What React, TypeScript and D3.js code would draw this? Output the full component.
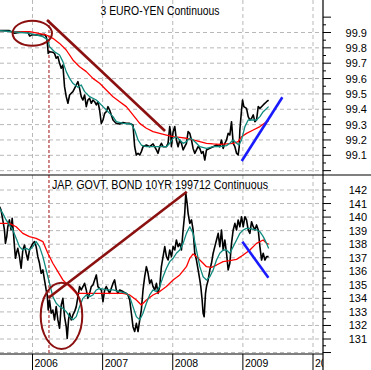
import React from "react";
import * as d3 from "d3";

type P = [number, number];

// ---- 3 EURO-YEN Continuous (decimal year, price) ----
const euroYenClose: P[] = [
  [2005.53, 99.912], [2005.67, 99.912], [2005.72, 99.901], [2005.74, 99.895], [2005.81, 99.901],
  [2005.93, 99.905], [2005.96, 99.877], [2006.0, 99.886], [2006.1, 99.882], [2006.17, 99.888],
  [2006.195, 99.873], [2006.21, 99.84], [2006.224, 99.764], [2006.243, 99.775], [2006.29, 99.771],
  [2006.314, 99.764], [2006.338, 99.732], [2006.362, 99.743], [2006.386, 99.699], [2006.41, 99.667],
  [2006.433, 99.688], [2006.457, 99.547], [2006.481, 99.482], [2006.505, 99.439], [2006.529, 99.493],
  [2006.552, 99.504], [2006.576, 99.515], [2006.6, 99.536], [2006.624, 99.558], [2006.648, 99.58],
  [2006.671, 99.536], [2006.695, 99.482], [2006.719, 99.46], [2006.743, 99.493], [2006.767, 99.417],
  [2006.79, 99.46], [2006.814, 99.471], [2006.838, 99.439], [2006.862, 99.46], [2006.886, 99.449],
  [2006.91, 99.428], [2006.933, 99.449], [2006.957, 99.395], [2006.981, 99.308], [2007.005, 99.33],
  [2007.029, 99.373], [2007.052, 99.384], [2007.076, 99.417], [2007.1, 99.395], [2007.124, 99.363],
  [2007.148, 99.33], [2007.171, 99.319], [2007.195, 99.308], [2007.243, 99.304], [2007.29, 99.313],
  [2007.338, 99.308], [2007.386, 99.308], [2007.433, 99.297], [2007.457, 99.156], [2007.481, 99.102],
  [2007.505, 99.113], [2007.529, 99.102], [2007.552, 99.124], [2007.576, 99.156], [2007.624, 99.167],
  [2007.671, 99.156], [2007.719, 99.174], [2007.767, 99.135], [2007.79, 99.113], [2007.814, 99.156],
  [2007.838, 99.178], [2007.862, 99.156], [2007.91, 99.156], [2007.933, 99.178], [2007.957, 99.287],
  [2007.971, 99.243], [2007.981, 99.156], [2008.005, 99.254], [2008.029, 99.287], [2008.052, 99.2],
  [2008.076, 99.156], [2008.1, 99.2], [2008.124, 99.178], [2008.148, 99.135], [2008.171, 99.156],
  [2008.195, 99.178], [2008.219, 99.254], [2008.243, 99.243], [2008.267, 99.2], [2008.29, 99.145],
  [2008.314, 99.113], [2008.338, 99.135], [2008.362, 99.156], [2008.386, 99.145], [2008.41, 99.113],
  [2008.433, 99.124], [2008.457, 99.069], [2008.481, 99.135], [2008.529, 99.145], [2008.576, 99.156],
  [2008.624, 99.167], [2008.671, 99.156], [2008.695, 99.2], [2008.719, 99.145], [2008.743, 99.178],
  [2008.767, 99.2], [2008.79, 99.243], [2008.814, 99.232], [2008.838, 99.319], [2008.862, 99.178],
  [2008.886, 99.156], [2008.91, 99.113], [2008.933, 99.102], [2008.948, 99.156], [2008.957, 99.265],
  [2008.981, 99.395], [2008.995, 99.46], [2009.014, 99.417], [2009.052, 99.406], [2009.076, 99.352],
  [2009.1, 99.33], [2009.124, 99.341], [2009.148, 99.363], [2009.171, 99.319], [2009.195, 99.33],
  [2009.219, 99.417], [2009.243, 99.406], [2009.29, 99.428], [2009.338, 99.449], [2009.367, 99.46],
];

const euroYenShortMA: P[] = [
  [2005.53, 99.912], [2005.72, 99.905], [2005.96, 99.895], [2006.148, 99.873], [2006.219, 99.851],
  [2006.243, 99.808], [2006.314, 99.775], [2006.386, 99.753], [2006.433, 99.71], [2006.481, 99.645],
  [2006.529, 99.601], [2006.576, 99.569], [2006.648, 99.543], [2006.695, 99.558], [2006.743, 99.515],
  [2006.814, 99.482], [2006.91, 99.46], [2006.957, 99.439], [2007.005, 99.417], [2007.052, 99.395],
  [2007.1, 99.373], [2007.148, 99.352], [2007.195, 99.319], [2007.29, 99.308], [2007.41, 99.304],
  [2007.457, 99.265], [2007.505, 99.2], [2007.552, 99.167], [2007.624, 99.156], [2007.719, 99.156],
  [2007.814, 99.156], [2007.91, 99.156], [2007.957, 99.178], [2008.005, 99.211], [2008.052, 99.221],
  [2008.1, 99.2], [2008.148, 99.178], [2008.195, 99.189], [2008.243, 99.211], [2008.29, 99.2],
  [2008.338, 99.178], [2008.386, 99.156], [2008.481, 99.145], [2008.576, 99.156], [2008.671, 99.156],
  [2008.767, 99.163], [2008.814, 99.178], [2008.862, 99.2], [2008.91, 99.178], [2008.943, 99.167],
  [2008.981, 99.2], [2009.029, 99.287], [2009.076, 99.33], [2009.148, 99.33], [2009.195, 99.33],
  [2009.243, 99.352], [2009.29, 99.384], [2009.367, 99.417],
];

const euroYenLongMA: P[] = [
  [2005.72, 99.905], [2005.96, 99.905], [2006.195, 99.884], [2006.29, 99.862], [2006.386, 99.829],
  [2006.481, 99.786], [2006.576, 99.721], [2006.671, 99.677], [2006.767, 99.645], [2006.862, 99.601],
  [2006.957, 99.569], [2007.052, 99.525], [2007.148, 99.482], [2007.243, 99.449], [2007.338, 99.417],
  [2007.433, 99.363], [2007.529, 99.308], [2007.624, 99.276], [2007.719, 99.254], [2007.814, 99.243],
  [2007.91, 99.232], [2008.005, 99.221], [2008.1, 99.217], [2008.195, 99.211], [2008.29, 99.2],
  [2008.386, 99.189], [2008.481, 99.178], [2008.576, 99.174], [2008.671, 99.171], [2008.767, 99.174],
  [2008.862, 99.178], [2008.933, 99.189], [2008.981, 99.221], [2009.052, 99.243], [2009.148, 99.265],
  [2009.243, 99.287], [2009.338, 99.319], [2009.367, 99.326],
];

// ---- JAP. GOVT. BOND 10YR 199712 Continuous ----
const jgbClose: P[] = [
  [2005.53, 140.77], [2005.552, 140.52], [2005.576, 139.79], [2005.6, 139.05], [2005.614, 138.06],
  [2005.633, 138.56], [2005.648, 139.29], [2005.671, 139.79], [2005.695, 139.05], [2005.71, 139.91],
  [2005.729, 138.8], [2005.743, 137.82], [2005.757, 136.96], [2005.776, 137.45], [2005.79, 137.69],
  [2005.814, 137.08], [2005.838, 136.22], [2005.862, 137.57], [2005.886, 137.94], [2005.91, 137.33],
  [2005.933, 136.83], [2005.957, 137.57], [2005.981, 137.82], [2006.005, 138.06], [2006.029, 138.19],
  [2006.052, 137.82], [2006.076, 137.08], [2006.1, 136.59], [2006.124, 135.85], [2006.148, 136.1],
  [2006.171, 135.36], [2006.195, 134.62], [2006.21, 134.25], [2006.224, 133.14], [2006.243, 133.88],
  [2006.267, 132.9], [2006.29, 133.14], [2006.314, 132.41], [2006.338, 133.39], [2006.362, 132.41],
  [2006.386, 131.79], [2006.41, 133.51], [2006.433, 134.0], [2006.457, 132.65], [2006.481, 131.91],
  [2006.495, 131.05], [2006.514, 132.41], [2006.529, 132.9], [2006.552, 132.41], [2006.576, 132.78],
  [2006.6, 133.02], [2006.624, 133.39], [2006.648, 134.13], [2006.671, 134.87], [2006.695, 134.62],
  [2006.719, 134.87], [2006.743, 135.11], [2006.767, 134.62], [2006.79, 134.0], [2006.814, 134.37],
  [2006.838, 134.87], [2006.862, 134.99], [2006.886, 135.36], [2006.91, 135.73], [2006.933, 134.87],
  [2006.957, 134.74], [2006.981, 134.62], [2007.005, 133.76], [2007.029, 134.62], [2007.052, 134.87],
  [2007.1, 134.37], [2007.148, 135.11], [2007.171, 135.36], [2007.195, 134.62], [2007.219, 134.37],
  [2007.243, 134.62], [2007.29, 134.5], [2007.338, 134.37], [2007.362, 134.25], [2007.386, 133.88],
  [2007.41, 132.9], [2007.433, 131.91], [2007.457, 131.55], [2007.481, 132.16], [2007.505, 131.55],
  [2007.529, 132.41], [2007.552, 133.14], [2007.576, 134.62], [2007.6, 135.6], [2007.624, 136.34],
  [2007.648, 135.85], [2007.671, 135.11], [2007.695, 135.36], [2007.719, 134.87], [2007.743, 134.62],
  [2007.767, 135.11], [2007.79, 134.37], [2007.814, 134.87], [2007.838, 136.34], [2007.862, 137.08],
  [2007.886, 137.82], [2007.91, 137.08], [2007.933, 136.83], [2007.957, 137.57], [2007.981, 137.08],
  [2008.005, 137.82], [2008.029, 137.57], [2008.052, 138.31], [2008.076, 137.82], [2008.1, 138.06],
  [2008.124, 137.57], [2008.148, 139.05], [2008.171, 140.28], [2008.186, 141.75], [2008.205, 141.02],
  [2008.219, 140.28], [2008.243, 139.54], [2008.267, 139.79], [2008.29, 139.05], [2008.314, 137.33],
  [2008.338, 136.83], [2008.362, 136.1], [2008.386, 135.36], [2008.4, 134.87], [2008.419, 133.88],
  [2008.433, 132.9], [2008.448, 132.65], [2008.467, 134.37], [2008.481, 134.87], [2008.505, 135.36],
  [2008.529, 136.1], [2008.552, 136.59], [2008.576, 137.33], [2008.6, 137.82], [2008.624, 138.31],
  [2008.648, 138.8], [2008.671, 137.82], [2008.695, 139.05], [2008.719, 137.57], [2008.743, 138.31],
  [2008.767, 137.33], [2008.79, 136.1], [2008.814, 136.59], [2008.838, 138.06], [2008.862, 139.05],
  [2008.886, 139.54], [2008.91, 139.05], [2008.933, 139.79], [2008.957, 139.29], [2008.981, 140.03],
  [2009.005, 139.29], [2009.029, 140.03], [2009.052, 139.79], [2009.076, 139.05], [2009.1, 138.8],
  [2009.124, 139.66], [2009.148, 139.29], [2009.171, 139.05], [2009.195, 139.42], [2009.219, 139.05],
  [2009.243, 137.82], [2009.267, 136.83], [2009.29, 137.33], [2009.314, 136.83], [2009.338, 137.08],
  [2009.367, 137.08],
];

const jgbShortMA: P[] = [
  [2005.53, 140.65], [2005.576, 140.28], [2005.624, 139.79], [2005.671, 139.42], [2005.719, 139.05],
  [2005.767, 138.43], [2005.814, 137.82], [2005.862, 137.57], [2005.91, 137.69], [2005.957, 137.57],
  [2006.005, 137.82], [2006.052, 138.19], [2006.1, 137.82], [2006.148, 137.08], [2006.195, 136.1],
  [2006.243, 135.11], [2006.29, 134.13], [2006.338, 133.64], [2006.386, 133.39], [2006.433, 133.27],
  [2006.481, 133.02], [2006.529, 132.65], [2006.576, 132.41], [2006.624, 132.65], [2006.671, 133.39],
  [2006.719, 134.0], [2006.767, 134.25], [2006.814, 134.13], [2006.862, 134.25], [2006.91, 134.62],
  [2006.957, 134.74], [2007.052, 134.62], [2007.148, 134.62], [2007.243, 134.5], [2007.338, 134.37],
  [2007.386, 134.13], [2007.433, 133.39], [2007.481, 132.65], [2007.529, 132.41], [2007.576, 132.9],
  [2007.624, 133.64], [2007.671, 134.25], [2007.719, 134.62], [2007.767, 134.5], [2007.814, 134.87],
  [2007.862, 135.6], [2007.91, 136.22], [2007.957, 136.71], [2008.005, 136.96], [2008.052, 137.33],
  [2008.1, 137.57], [2008.148, 138.06], [2008.195, 138.8], [2008.243, 139.29], [2008.29, 138.8],
  [2008.338, 137.57], [2008.386, 136.34], [2008.433, 135.6], [2008.481, 135.36], [2008.529, 135.6],
  [2008.576, 136.1], [2008.624, 136.83], [2008.671, 137.33], [2008.719, 137.57], [2008.767, 137.57],
  [2008.814, 137.33], [2008.862, 137.82], [2008.91, 138.31], [2008.957, 138.8], [2009.005, 139.05],
  [2009.052, 139.17], [2009.1, 139.17], [2009.148, 139.1], [2009.195, 139.05], [2009.243, 138.92],
  [2009.29, 138.56], [2009.338, 138.06], [2009.367, 137.69],
];

const jgbLongMA: P[] = [
  [2005.53, 139.54], [2005.671, 139.54], [2005.767, 139.29], [2005.862, 138.8], [2005.957, 138.56],
  [2006.052, 138.43], [2006.148, 138.19], [2006.219, 137.33], [2006.29, 136.59], [2006.362, 135.97],
  [2006.433, 135.36], [2006.529, 134.87], [2006.624, 134.37], [2006.719, 134.37], [2006.862, 134.37],
  [2007.005, 134.37], [2007.148, 134.37], [2007.29, 134.37], [2007.386, 134.25], [2007.481, 133.88],
  [2007.552, 133.51], [2007.624, 133.88], [2007.719, 134.25], [2007.814, 134.5], [2007.91, 134.87],
  [2008.005, 135.36], [2008.1, 135.73], [2008.195, 136.34], [2008.243, 136.96], [2008.29, 137.28],
  [2008.338, 137.08], [2008.386, 136.83], [2008.433, 136.59], [2008.481, 136.34], [2008.552, 136.29],
  [2008.624, 136.46], [2008.719, 136.71], [2008.814, 136.78], [2008.91, 136.88], [2009.005, 137.2],
  [2009.1, 137.57], [2009.195, 138.06], [2009.29, 138.31], [2009.338, 138.06], [2009.367, 138.01],
];

// ---- axis labels ----
const yearTicks = [2006, 2007, 2008, 2009, 2010];
const topTicks = [99.1, 99.2, 99.3, 99.4, 99.5, 99.6, 99.7, 99.8, 99.9];
const bottomTicks = [131, 132, 133, 134, 135, 136, 137, 138, 139, 140, 141, 142];
const topTitle = "3 EURO-YEN Continuous";
const bottomTitle = "JAP. GOVT. BOND 10YR 199712 Continuous";

// ---- annotations (decimal year, price) ----
const topTrendDown: P[] = [[2006.207, 99.981], [2007.89, 99.258]];
const topTrendUp: P[] = [[2008.984, 99.063], [2009.563, 99.478]];
const topCircle: P[] = [[2005.716, 99.976], [2006.278, 99.813]];
const bottomTrendUp: P[] = [[2006.225, 134.03], [2008.2, 141.87]];
const bottomTrendDown: P[] = [[2008.993, 138.18], [2009.364, 135.53]];
const bottomCircle: P[] = [[2006.117, 135.16], [2006.71, 130.27]];
const markerDate = 2006.235;

export default function App() {
  const W = 371, H = 370;
  const axisX = 323, sepY = 175, bottomY = 354;
  const x = d3.scaleLinear().domain([2006, 2010]).range([32.5, 313]);
  const yTop = d3.scaleLinear().domain([99.1, 99.9]).range([155.3, 32.5]);
  const yBot = d3.scaleLinear().domain([131, 142]).range([339, 190]);
  const lineTop = d3.line<P>().x((d) => x(d[0])).y((d) => yTop(d[1]));
  const lineBot = d3.line<P>().x((d) => x(d[0])).y((d) => yBot(d[1]));

  const grid = "#b8b8b8";
  const dash = "4,3";
  const font = "'Liberation Sans', Arial, sans-serif";
  const dark = "#8b1010";
  const teal = "#0f8a7e";

  const topGrid = d3.range(99.0, 99.95, 0.1);
  const botGrid = d3.range(130, 142.5, 1);
  const topMinor = d3.range(99.05, 100.0, 0.1);
  const botMinor = d3.range(130.5, 143, 1);

  const ell = (c: P[], ys: d3.ScaleLinear<number, number>) => {
    const x0 = x(c[0][0]), x1 = x(c[1][0]);
    const y0 = ys(c[0][1]), y1 = ys(c[1][1]);
    return { cx: (x0 + x1) / 2, cy: (y0 + y1) / 2, rx: Math.abs(x1 - x0) / 2, ry: Math.abs(y1 - y0) / 2 };
  };
  const e1 = ell(topCircle, yTop);
  const e2 = ell(bottomCircle, yBot);

  return (
    <svg width={W} height={H} style={{ position: "absolute", left: 0, top: 0, background: "#fff" }}
      fontFamily={font}>
      <defs>
        <clipPath id="cTop"><rect x={0} y={0} width={axisX} height={sepY} /></clipPath>
        <clipPath id="cBot"><rect x={0} y={sepY} width={axisX} height={bottomY - sepY} /></clipPath>
        <clipPath id="cLab"><rect x={0} y={bottomY} width={axisX} height={H - bottomY} /></clipPath>
      </defs>
      <rect x={0} y={0} width={W} height={H} fill="#fff" />

      {/* grid */}
      {yearTicks.map((t) => (
        <line key={"vg" + t} x1={x(t)} x2={x(t)} y1={0} y2={bottomY} stroke={grid} strokeDasharray={dash} />
      ))}
      {topGrid.map((v) => (
        <line key={"tg" + v} x1={0} x2={axisX} y1={yTop(v)} y2={yTop(v)} stroke={grid} strokeDasharray={dash} />
      ))}
      {botGrid.map((v) => (
        <line key={"bg" + v} x1={0} x2={axisX} y1={yBot(v)} y2={yBot(v)} stroke={grid} strokeDasharray={dash} />
      ))}

      {/* marker */}
      <line x1={x(markerDate)} x2={x(markerDate)} y1={20} y2={bottomY} stroke="#a01010" strokeDasharray="3,2" />

      {/* top series */}
      <g clipPath="url(#cTop)" fill="none" strokeLinejoin="round">
        <path d={lineTop(euroYenClose) || ""} stroke="#000" strokeWidth={1.6} />
        <path d={lineTop(euroYenLongMA) || ""} stroke="#ff0000" strokeWidth={1.3} />
        <path d={lineTop(euroYenShortMA) || ""} stroke={teal} strokeWidth={1.3} />
      </g>
      {/* bottom series */}
      <g clipPath="url(#cBot)" fill="none" strokeLinejoin="round">
        <path d={lineBot(jgbClose) || ""} stroke="#000" strokeWidth={1.6} />
        <path d={lineBot(jgbLongMA) || ""} stroke="#ff0000" strokeWidth={1.3} />
        <path d={lineBot(jgbShortMA) || ""} stroke={teal} strokeWidth={1.3} />
      </g>

      {/* annotations */}
      <path d={lineTop(topTrendDown) || ""} stroke={dark} strokeWidth={2.6} fill="none" />
      <path d={lineTop(topTrendUp) || ""} stroke="#1a1aff" strokeWidth={2.6} fill="none" />
      <ellipse {...e1} stroke={dark} strokeWidth={2} fill="none" />
      <path d={lineBot(bottomTrendUp) || ""} stroke={dark} strokeWidth={2.6} fill="none" />
      <path d={lineBot(bottomTrendDown) || ""} stroke="#1a1aff" strokeWidth={2.6} fill="none" />
      <ellipse {...e2} stroke={dark} strokeWidth={2} fill="none" />

      {/* titles */}
      <text x={160} y={15} textAnchor="middle" fontSize={12} textLength={119} lengthAdjust="spacingAndGlyphs">{topTitle}</text>
      <text x={160} y={189} textAnchor="middle" fontSize={12} textLength={216} lengthAdjust="spacingAndGlyphs">{bottomTitle}</text>

      {/* axes */}
      <line x1={axisX} x2={axisX} y1={0} y2={H} stroke="#000" strokeWidth={1.2} />
      <line x1={0} x2={W} y1={sepY} y2={sepY} stroke="#000" strokeWidth={1.2} />
      <line x1={0} x2={axisX} y1={bottomY} y2={bottomY} stroke="#000" strokeWidth={1.2} />

      {topGrid.concat([100.0]).map((v) => (
        <line key={"tt" + v} x1={axisX} x2={axisX + 8} y1={yTop(v)} y2={yTop(v)} stroke="#000" />
      ))}
      {topMinor.map((v) => (
        <line key={"tm" + v} x1={axisX} x2={axisX + 3} y1={yTop(v)} y2={yTop(v)} stroke="#000" />
      ))}
      {botGrid.map((v) => (
        <line key={"bt" + v} x1={axisX} x2={axisX + 8} y1={yBot(v)} y2={yBot(v)} stroke="#000" />
      ))}
      {botMinor.map((v) => (
        <line key={"bm" + v} x1={axisX} x2={axisX + 3} y1={yBot(v)} y2={yBot(v)} stroke="#000" />
      ))}

      {topTicks.map((v) => (
        <text key={"tl" + v} x={367} y={yTop(v) + 4} textAnchor="end" fontSize={11}>{v.toFixed(1)}</text>
      ))}
      {bottomTicks.map((v) => (
        <text key={"bl" + v} x={367} y={yBot(v) + 4} textAnchor="end" fontSize={11}>{v}</text>
      ))}

      <g clipPath="url(#cLab)">
        {yearTicks.map((t) => (
          <g key={"yl" + t}>
            <line x1={x(t)} x2={x(t)} y1={bottomY} y2={H} stroke="#000" />
            <text x={x(t) + 2} y={366.5} fontSize={10.5}>{t}</text>
          </g>
        ))}
      </g>
    </svg>
  );
}
